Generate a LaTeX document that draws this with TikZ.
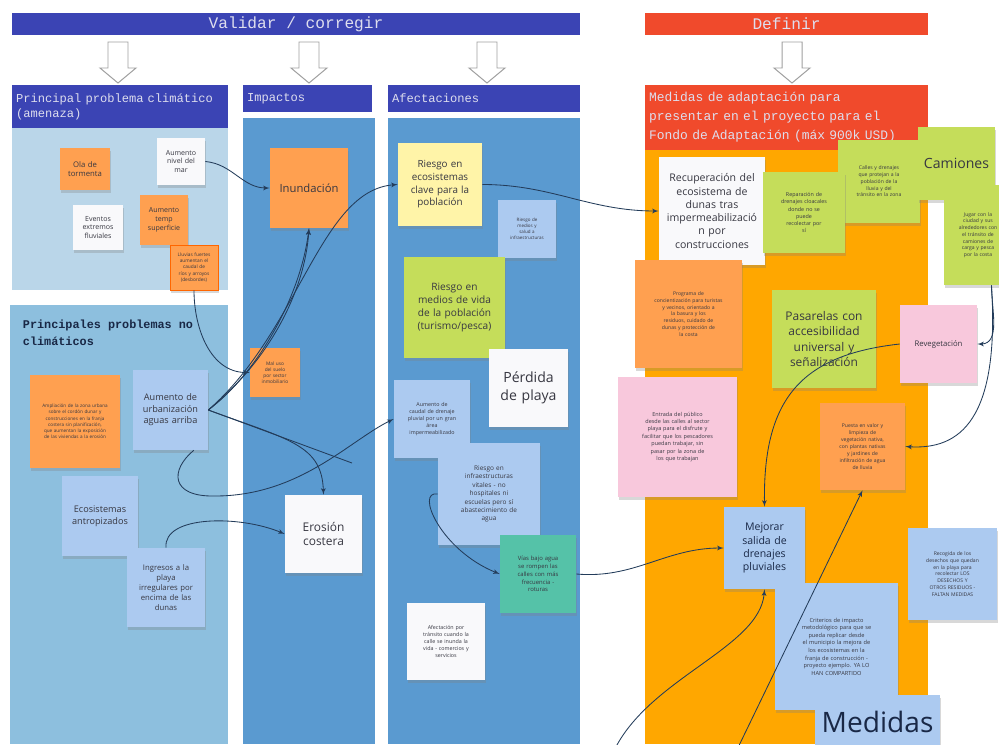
\documentclass[tikz,border=0pt]{standalone}
\usepackage{fontspec}
\setmainfont{Open Sans}
\setmonofont{Liberation Mono}
\usetikzlibrary{arrows,shadows}

\definecolor{bannerblue}{RGB}{59,68,180}
\definecolor{bannerred}{RGB}{240,74,44}
\definecolor{climbg}{RGB}{186,214,233}
\definecolor{noclimbg}{RGB}{141,191,222}
\definecolor{colbg}{RGB}{90,154,208}
\definecolor{defbg}{RGB}{255,167,0}
\definecolor{noteorange}{RGB}{255,160,80}
\definecolor{notewhite}{RGB}{249,249,251}
\definecolor{noteblue}{RGB}{172,202,240}
\definecolor{noteyellow}{RGB}{255,244,168}
\definecolor{notegreen}{RGB}{197,221,90}
\definecolor{noteteal}{RGB}{85,194,168}
\definecolor{notepink}{RGB}{248,200,220}
\definecolor{linkblue}{RGB}{35,60,90}
\definecolor{notetext}{RGB}{55,55,65}
\definecolor{headtext}{RGB}{222,222,238}
\definecolor{titletext}{RGB}{25,40,70}

\newcommand{\nf}[2]{\fontsize{#1}{#2}\selectfont}

\begin{document}
\begin{tikzpicture}[x=0.025cm, y=-0.025cm]
	\tikzstyle{banner} = [rectangle, text=headtext, font=\ttfamily\nf{11.5}{13}, minimum height=0.55cm, inner sep=0pt]
	\tikzstyle{header} = [rectangle, fill=bannerblue, text=headtext, font=\ttfamily\nf{8.6}{10.5}, align=left, inner xsep=3pt, inner ysep=0pt]
	\tikzstyle{sticky} = [rectangle, text=notetext, align=center, inner sep=0pt, drop shadow={shadow xshift=0.4pt, shadow yshift=-1.8pt, opacity=0.3}]
	\tikzstyle{hollow} = [draw=gray!75, fill=white, line width=0.7pt]
	\tikzstyle{connector} = [draw=linkblue, line width=0.6pt, -latex']
\useasboundingbox (0,0) rectangle (999,744);
\clip (0,0) rectangle (999,744);
\fill [white] (0,0) rectangle (999,744);
% column panels
\fill [climbg] (12,128) rectangle (228,290);
\fill [noclimbg] (10,305) rectangle (228,744);
\fill [colbg] (243,118) rectangle (375,744);
\fill [colbg] (388,118) rectangle (580,744);
\fill [defbg] (645,150) rectangle (928,744);
\foreach \ax in {118,309,487,792}
	\draw [hollow] (\ax-10,42) -- (\ax+10,42) -- (\ax+10,68) -- (\ax+18,68) -- (\ax,83) -- (\ax-18,68) -- (\ax-10,68) -- cycle;
\node [banner, fill=bannerblue, minimum width=14.2cm] at (296,24) (validar) {Validar / corregir};
\node [banner, fill=bannerred, minimum width=7.075cm] at (786.5,24) (definir) {Definir};
\node [header, minimum width=5.4cm, minimum height=1.075cm, text width=5.19cm] at (120,106.5) (climhead) {Principal problema climático\\(amenaza)};
\node [header, minimum width=3.225cm, minimum height=0.675cm, text width=3.015cm] at (307.5,98.5) (imphead) {Impactos};
\node [header, minimum width=4.8cm, minimum height=0.675cm, text width=4.59cm] at (484,98.5) (afecthead) {Afectaciones};
\node [header, fill=bannerred, font=\ttfamily\nf{9.2}{13.5}, minimum width=7.075cm, minimum height=1.625cm, text width=6.865cm] at (786.5,117.5) (medhead) {Medidas de adaptación para\\presentar en el proyecto para el\\Fondo de Adaptación (máx 900k USD)};
\node [anchor=west, align=left, text=titletext, font=\ttfamily\bfseries\nf{8.4}{12}] at (18,333) (noclimhead) {Principales problemas no\\climáticos};
% amenazas
\node [sticky, fill=noteorange, minimum width=1.25cm, minimum height=1.05cm, text width=1.1cm, font=\nf{5.5}{6.8}] at (85,169) (ola) {Ola de\\tormenta};
\node [sticky, fill=notewhite, minimum width=1.2cm, minimum height=1.175cm, text width=1.05cm, font=\nf{5}{6.3}] at (181,161.5) (nivel) {Aumento\\nivel del\\mar};
\node [sticky, fill=notewhite, minimum width=1.25cm, minimum height=1.125cm, text width=1.1cm, font=\nf{5}{6.3}] at (98,227.5) (fluv) {Eventos\\extremos\\fluviales};
\node [sticky, fill=noteorange, minimum width=1.2cm, minimum height=1.25cm, text width=1.05cm, font=\nf{5}{6.3}] at (164,220) (temp) {Aumento\\temp\\superficie};
\node [sticky, fill=noteorange, draw=orange!80!red, minimum width=1.2cm, minimum height=1.125cm, text width=1.1cm, font=\nf{3.4}{4.3}] at (194,267.5) (lluvia) {Lluvias fuertes\\aumentan el\\caudal de\\ríos y arroyos\\(desbordes)};
% problemas no climaticos
\node [sticky, fill=noteorange, minimum width=2.25cm, minimum height=2.325cm, text width=2.05cm, font=\nf{3.3}{4.4}] at (75,421.5) (ocup) {Ampliación de la zona urbana\\sobre el cordón dunar y\\construcciones en la franja\\costera sin planificación,\\que aumentan la exposición\\de las viviendas a la erosión};
\node [sticky, fill=noteblue, minimum width=1.875cm, minimum height=2cm, text width=1.75cm, font=\nf{6.5}{8.2}] at (170.5,410) (urban) {Aumento de\\urbanización\\aguas arriba};
\node [sticky, fill=noteblue, minimum width=1.9cm, minimum height=2cm, text width=1.8cm, font=\nf{6.5}{8.2}] at (100,516) (antrop) {Ecosistemas\\antropizados};
\node [sticky, fill=noteblue, minimum width=1.95cm, minimum height=1.975cm, text width=1.85cm, font=\nf{5.5}{7}] at (166,587.5) (ingreso) {Ingresos a la\\playa\\irregulares por\\encima de las\\dunas};
% impactos
\node [sticky, fill=noteorange, minimum width=1.95cm, minimum height=2cm, text width=1.8cm, font=\nf{8}{10}] at (309,188) (inund) {Inundación};
\node [sticky, fill=noteorange, minimum width=1.25cm, minimum height=1.225cm, text width=1.15cm, font=\nf{3.4}{4.4}] at (275,372.5) (smallimp) {Mal uso\\del suelo\\por sector\\inmobiliario};
\node [sticky, fill=notewhite, minimum width=1.925cm, minimum height=1.95cm, text width=1.8cm, font=\nf{8.5}{10.5}] at (323.5,534) (erosion) {Erosión\\costera};
% afectaciones
\node [sticky, fill=noteyellow, minimum width=2.1cm, minimum height=2.075cm, text width=2cm, font=\nf{7}{9}] at (440,184.5) (riesgoeco) {Riesgo en\\ecosistemas\\clave para la\\población};
\node [sticky, fill=noteblue, minimum width=1.45cm, minimum height=1.45cm, text width=1.35cm, font=\nf{3.2}{4.2}] at (527,229) (salud) {Riesgo de\\medios y\\salud a\\infraestructuras};
\node [sticky, fill=notegreen, minimum width=2.525cm, minimum height=2.525cm, text width=2.4cm, font=\nf{7.2}{9.2}] at (454.5,307.5) (medios) {Riesgo en\\medios de vida\\de la población\\(turismo/pesca)};
\node [sticky, fill=notewhite, minimum width=1.975cm, minimum height=1.95cm, text width=1.85cm, font=\nf{10}{12.5}] at (528.5,388) (perdida) {Pérdida\\de playa};
\node [sticky, fill=noteblue, minimum width=1.9cm, minimum height=1.95cm, text width=1.8cm, font=\nf{3.8}{5}] at (432,419) (aumentoafect) {Aumento de\\caudal de drenaje\\pluvial por un gran\\área\\impermeabilizado};
\node [sticky, fill=noteblue, minimum width=2.55cm, minimum height=2.55cm, text width=2.4cm, font=\nf{4.6}{6}] at (489,494) (infra) {Riesgo en\\infraestructuras\\vitales - no\\hospitales ni\\escuelas pero sí\\abastecimiento de\\agua};
\node [sticky, fill=noteteal, minimum width=1.9cm, minimum height=1.95cm, text width=1.8cm, font=\nf{4.2}{5.6}] at (538,574) (teal) {Vías bajo agua\\se rompen las\\calles con más\\frecuencia -\\roturas};
\node [sticky, fill=notewhite, minimum width=1.95cm, minimum height=1.925cm, text width=1.85cm, font=\nf{3.8}{5}] at (446,641.5) (afectw) {Afectación por\\tránsito cuando la\\calle se inunda la\\vida - comercios y\\servicios};
% medidas
\node [sticky, fill=notewhite, minimum width=2.65cm, minimum height=2.7cm, text width=2.6cm, font=\nf{7.5}{9.4}] at (712,211) (recup) {Recuperación del\\ecosistema de\\dunas tras\\impermeabilizació\\n por\\construcciones};
\node [sticky, fill=notegreen, minimum width=2.05cm, minimum height=2.075cm, text width=1.95cm, font=\nf{3.6}{4.8}] at (879,181.5) (calles) {Calles y drenajes\\que protejan a la\\población de la\\lluvia y del\\tránsito en la zona};
\node [sticky, fill=notegreen, minimum width=2.05cm, minimum height=2.025cm, text width=1.95cm, font=\nf{3.8}{5}] at (804,212.5) (repar) {Reparación de\\drenajes cloacales\\donde no se\\puede\\recolectar por\\sí};
\node [sticky, fill=notegreen, minimum width=1.925cm, minimum height=1.825cm, text width=1.85cm, font=\nf{10}{12}] at (956.5,163.5) (camiones) {Camiones};
\node [sticky, fill=notegreen, minimum width=1.7cm, minimum height=2.5cm, text width=1.4cm, font=\nf{3.6}{4.8}] at (978,235) (greenright) {Jugar con la\\ciudad y sus\\alrededores con\\el tránsito de\\camiones de\\carga y pesca\\por la costa};
\node [sticky, fill=noteorange, minimum width=2.675cm, minimum height=2.7cm, text width=2.55cm, font=\nf{3.6}{4.9}] at (688.5,314) (program) {Programa de\\concientización para turistas\\y vecinos, orientado a\\la basura y los\\residuos, cuidado de\\dunas y protección de\\la costa};
\node [sticky, fill=notegreen, minimum width=2.6cm, minimum height=2.45cm, text width=2.5cm, font=\nf{8.5}{10.8}] at (824,339) (pasarela) {Pasarelas con\\accesibilidad\\universal y\\señalización};
\node [sticky, fill=notepink, minimum width=1.925cm, minimum height=1.95cm, text width=1.85cm, font=\nf{5.5}{7}] at (938.5,344) (reveg) {Revegetación};
\node [sticky, fill=notepink, minimum width=2.975cm, minimum height=3cm, text width=2.85cm, font=\nf{3.9}{5.3}] at (677.5,437) (entrada) {Entrada del público\\desde las calles al sector\\playa para el disfrute y\\facilitar que los pescadores\\puedan trabajar, sin\\pasar por la zona de\\los que trabajan};
\node [sticky, fill=noteorange, minimum width=2.125cm, minimum height=2.175cm, text width=2.05cm, font=\nf{3.6}{4.9}] at (862.5,446.5) (puesta) {Puesta en valor y\\limpieza de\\vegetación nativa,\\con plantas nativas\\y jardines de\\infiltración de agua\\de lluvia};
\node [sticky, fill=noteblue, minimum width=2.025cm, minimum height=2.05cm, text width=1.95cm, text=titletext, font=\nf{7.5}{9.4}] at (764.5,548) (mejorar) {Mejorar\\salida de\\drenajes\\pluviales};
\node [sticky, fill=noteblue, minimum width=2.225cm, minimum height=2.3cm, text width=2.15cm, font=\nf{3.6}{4.9}] at (952.5,574) (recogida) {Recogida de los\\desechos que quedan\\en la playa para\\recolectar LOS\\DESECHOS Y\\OTROS RESIDUOS -\\FALTAN MEDIDAS};
\node [sticky, fill=noteblue, minimum width=3.075cm, minimum height=3.175cm, text width=2.95cm, font=\nf{4}{5.4}] at (836.5,646.5) (criterios) {Criterios de impacto\\metodológico para que se\\pueda replicar desde\\el municipio la mejora de\\los ecosistemas en la\\franja de construcción -\\proyecto ejemplo. YA LO\\HAN COMPARTIDO};
\node [sticky, fill=noteblue, minimum width=3.125cm, minimum height=1.325cm, text width=3cm, text=titletext, font=\nf{20}{24}] at (877.5,721.5) (medidas) {Medidas};
% free ends
\coordinate (loose) at (352,463);
\coordinate (bend1) at (215,496);
\coordinate (src1) at (610,760);
\coordinate (src2) at (732,760);
\path [connector] (nivel.east) to[out=-5,in=180] (inund.west);
\path [connector] (urban.east) .. controls (300,330) and (320,190) .. (riesgoeco.west);
\path [connector] (urban.east) .. controls (270,360) and (305,290) .. (inund.south);
\path [connector] (urban.east) .. controls (255,375) and (300,300) .. (inund.south);
\path [connector] (lluvia.south) to[out=-90,in=180] (smallimp.west);
\draw [draw=linkblue, line width=0.6pt] (urban.east) -- (loose);
\path [connector] (urban.east) .. controls (290,440) and (322,445) .. (erosion.north);
\path [connector] (urban.-60) .. controls (170,470) and (170,497) .. (bend1) .. controls (300,496) and (350,440) .. (aumentoafect.west);
\path [connector] (ingreso.north) .. controls (163,515) and (240,515) .. (erosion.west);
\path [connector] (riesgoeco.east) to[out=0,in=180] (recup.west);
\path [connector] (infra.west) .. controls (415,490) and (440,550) .. (teal.west);
\path [connector] (teal.east) to[out=-5,in=180] (mejorar.west);
\path [connector] (reveg.west) .. controls (800,355) and (763,400) .. (mejorar.north);
\path [connector] (greenright.-75) to[out=-90,in=0] (reveg.east);
\path [connector] (greenright.-75) .. controls (1000,420) and (960,450) .. (puesta.east);
\path [connector] (src1) .. controls (640,680) and (760,650) .. (mejorar.south);
\path [connector] (src2) -- (puesta.south);
\end{tikzpicture}
\end{document}
